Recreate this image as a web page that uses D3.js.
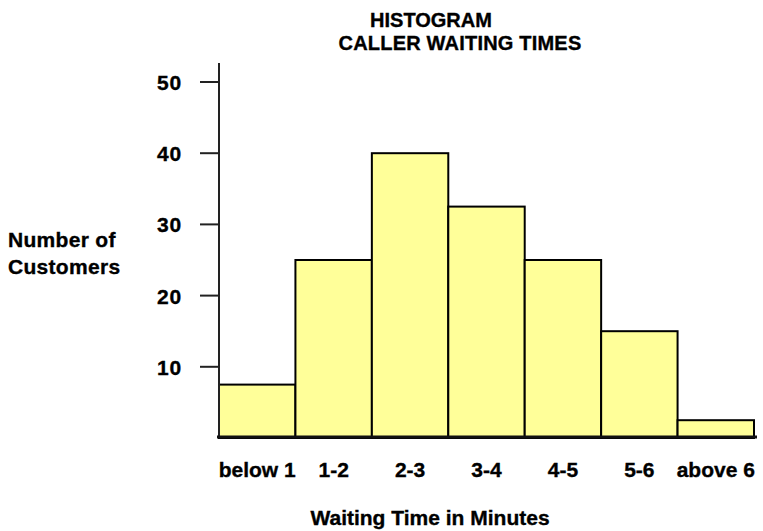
<!DOCTYPE html>
<html>
<head>
<meta charset="utf-8">
<script src="https://cdn.jsdelivr.net/npm/d3@7"></script>
<style>
  body { margin: 0; background: #fff; }
  text { font-family: "Liberation Sans", Arial, sans-serif; font-weight: bold; fill: #000; stroke: #000; stroke-width: 0.35px; }
</style>
</head>
<body>
<svg id="chart" width="763" height="531"></svg>
<script>
const categories = ["below 1", "1-2", "2-3", "3-4", "4-5", "5-6", "above 6"]
const counts = [7.5, 25, 40, 32.5, 25, 15, 2.5]
const yTicks = [10, 20, 30, 40, 50]

const svg = d3.select("#chart")

const x = d3.scaleBand().domain(categories).range([219, 754]).padding(0)
const y = d3.scaleLinear().domain([0, 50]).range([438, 82])

// titles
svg.append("text").attr("x", 431).attr("y", 27).attr("text-anchor", "middle")
  .style("font-size", "20px").text("HISTOGRAM")
svg.append("text").attr("x", 460).attr("y", 50).attr("text-anchor", "middle")
  .style("font-size", "20px").style("letter-spacing", "0.2px").text("CALLER WAITING TIMES")

// bars
svg.append("g")
  .selectAll("rect")
  .data(categories)
  .enter()
  .append("rect")
  .attr("x", (d) => x(d))
  .attr("y", (d, i) => y(counts[i]))
  .attr("width", x.bandwidth())
  .attr("height", (d, i) => y(0) - y(counts[i]))
  .attr("fill", "#ffff99")
  .attr("stroke", "#000")
  .attr("stroke-width", 2)

// y axis line + ticks
svg.append("line").attr("x1", 219).attr("x2", 219).attr("y1", 63).attr("y2", y(0))
  .attr("stroke", "#222").attr("stroke-width", 2)
const tick = svg.append("g").selectAll("g").data(yTicks).enter().append("g")
tick.append("line").attr("x1", 200).attr("x2", 219)
  .attr("y1", (d) => y(d)).attr("y2", (d) => y(d))
  .attr("stroke", "#222").attr("stroke-width", 2)
tick.append("text").attr("x", 182).attr("y", (d) => y(d) + 8)
  .attr("text-anchor", "end").style("font-size", "21px").style("letter-spacing", "0.8px")
  .text((d) => d)

// baseline
svg.append("line").attr("x1", 217).attr("x2", 757).attr("y1", y(0) - 1).attr("y2", y(0) - 1)
  .attr("stroke", "#111").attr("stroke-width", 3)

// category labels
svg.append("g").selectAll("text").data(categories).enter().append("text")
  .attr("x", (d) => x(d) + x.bandwidth() / 2)
  .attr("y", 477)
  .attr("text-anchor", "middle")
  .style("font-size", "21px")
  .text((d) => d)

// axis titles
svg.append("text").attr("x", 430).attr("y", 525).attr("text-anchor", "middle")
  .style("font-size", "21px").text("Waiting Time in Minutes")
svg.append("text").attr("x", 8).attr("y", 247).style("font-size", "21px").style("letter-spacing", "0.3px").text("Number of")
svg.append("text").attr("x", 8).attr("y", 274).style("font-size", "21px").style("letter-spacing", "0.3px").text("Customers")
</script>
</body>
</html>
